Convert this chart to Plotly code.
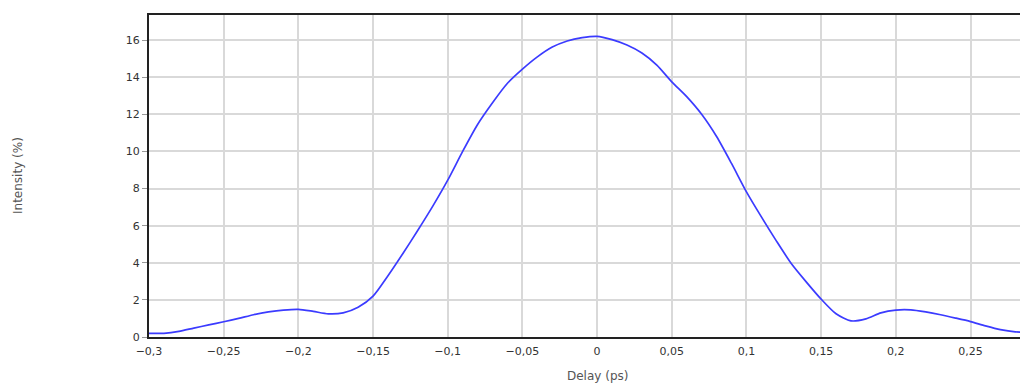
import plotly.graph_objects as go

# Autocorrelation trace
delay = [-0.30, -0.29, -0.28, -0.27, -0.26, -0.25, -0.24, -0.23, -0.22, -0.21,
         -0.20, -0.19, -0.18, -0.17, -0.16, -0.15, -0.14, -0.13, -0.12, -0.11,
         -0.10, -0.09, -0.08, -0.07, -0.06, -0.05, -0.04, -0.03, -0.02, -0.01,
         0.00, 0.01, 0.02, 0.03, 0.04, 0.05, 0.06, 0.07, 0.08, 0.09,
         0.10, 0.11, 0.12, 0.13, 0.14, 0.15, 0.16, 0.17, 0.18, 0.19,
         0.20, 0.21, 0.22, 0.23, 0.24, 0.25, 0.26, 0.27, 0.28, 0.29]
intensity = [0.2, 0.2, 0.3, 0.48, 0.65, 0.82, 1.0, 1.2, 1.35, 1.45,
             1.49, 1.38, 1.25, 1.3, 1.6, 2.2, 3.3, 4.5, 5.75, 7.05,
             8.45, 10.0, 11.45, 12.62, 13.67, 14.43, 15.09, 15.62, 15.95, 16.13,
             16.2, 16.02, 15.73, 15.3, 14.65, 13.75, 12.95, 12.0, 10.8, 9.35,
             7.82, 6.47, 5.18, 3.96, 2.97, 2.04, 1.25, 0.87, 0.98, 1.3,
             1.45, 1.46, 1.35, 1.2, 1.02, 0.83, 0.6, 0.4, 0.28, 0.25]

x_ticks = [-0.3, -0.25, -0.2, -0.15, -0.1, -0.05, 0, 0.05, 0.1, 0.15, 0.2, 0.25]
y_ticks = [0, 2, 4, 6, 8, 10, 12, 14, 16]

fig = go.Figure(go.Scatter(
    x=delay, y=intensity, mode='lines',
    line=dict(color='#3b3bff', width=1.7, shape='spline', smoothing=0.7),
    showlegend=False,
))

font = dict(family='DejaVu Sans', size=11, color='#333333')
title_font = dict(family='DejaVu Sans', size=12, color='#555555')

# the page body adds an 8px margin, so the figure is 8px smaller each way
fig.update_layout(
    width=1020, height=378,
    margin=dict(l=141, r=0, t=7, b=49),
    paper_bgcolor='white', plot_bgcolor='white',
    separators=',.',
    font=font,
    xaxis=dict(
        range=[-0.3, 0.2885], tickvals=x_ticks, ticks='',
        ticklabelstandoff=3,
        showgrid=True, gridcolor='#d9d9d9', gridwidth=1.5,
        showline=True, linecolor='#222222', linewidth=2, mirror=True,
        zeroline=False, tickfont=font,
    ),
    yaxis=dict(
        range=[0, 17.35], tickvals=y_ticks, ticks='outside', ticklen=5,
        tickcolor='#999999',
        showgrid=True, gridcolor='#d9d9d9', gridwidth=1.5,
        showline=True, linecolor='#222222', linewidth=2,
        zeroline=False, tickfont=font,
    ),
    annotations=[
        dict(text='Delay (ps)', xref='x', yref='paper', x=0, y=0,
             yshift=-48, showarrow=False, font=title_font),
        dict(text='Intensity (%)', xref='paper', yref='paper', x=0, y=0.5,
             xanchor='center', xshift=-131, textangle=-90, showarrow=False,
             font=title_font),
    ],
)

fig.write_html('out.html')
